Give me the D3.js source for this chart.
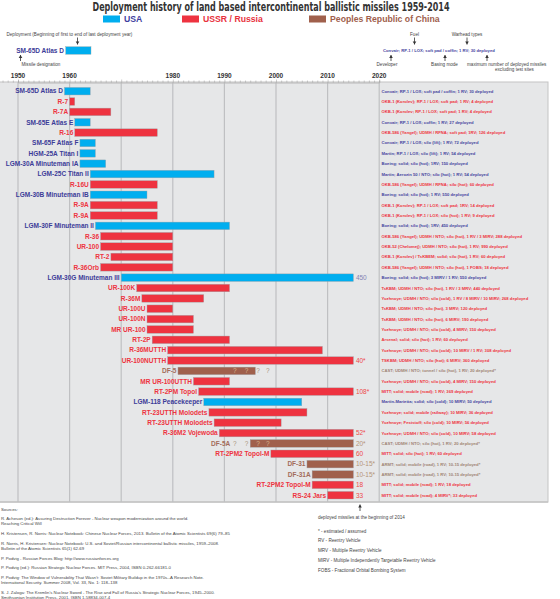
<!DOCTYPE html>
<html><head><meta charset="utf-8">
<script src="https://cdn.jsdelivr.net/npm/d3@7"></script>
<style>body{margin:0;background:#fff}svg{display:block}text{font-family:"Liberation Sans",Arial,sans-serif}</style>
</head><body><svg id="c" width="560" height="599"></svg>
<script>
// ---------- data ----------
const missiles = ["SM-65D Atlas D","R-7","R-7A","SM-65E Atlas E","R-16","SM-65F Atlas F","HGM-25A Titan I","LGM-30A Minuteman IA","LGM-25C Titan II","R-16U","LGM-30B Minuteman IB","R-9A","R-9A","LGM-30F Minuteman II","R-36","UR-100","RT-2","R-36Orb","LGM-30G Minuteman III","UR-100K","R-36M","UR-100U","UR-100N","MR UR-100","RT-2P","R-36MUTTH","UR-100NUTTH","DF-5","MR UR-100UTTH","RT-2PM Topol","LGM-118 Peacekeeper","RT-23UTTH Molodets","RT-23UTTH Molodets","R-36M2 Vojewoda","DF-5A","RT-2PM2 Topol-M","DF-31","DF-31A","RT-2PM2 Topol-M","RS-24 Jars"];
const countries = ["US","RU","RU","US","RU","US","US","US","US","RU","US","RU","RU","US","RU","RU","RU","RU","US","RU","RU","RU","RU","RU","RU","RU","RU","CN","RU","RU","US","RU","RU","RU","CN","RU","CN","CN","RU","RU"];
const startYears = [1959,1960,1960,1961,1961,1962,1962,1962,1964,1964,1964,1964,1964,1965,1966,1966,1968,1966,1970,1973,1974,1975,1975,1975,1976,1979,1979,1981,1984,1985,1986,1987,1988,1989,1995,1999,2006,2007,2007,2010];
const endYears   = [1964,1961,1968,1964,1977,1965,1965,1967,1988,1977,1975,1977,1977,1991,1980,1980,1980,1980,2015,1991,1986,1980,1984,1984,1991,2009,2015,1996,1991,2015,2005,2006,2001,2015,2015,2015,2015,2015,2015,2015];
const deployed2014 = ["","","","","","","","","","","","","","","","","","","450","","","","","","","","40*","","","108*","","","","52*","20*","60","10-15*","10-15*","18","33"];
const details = [
"Convair; RP-1 / LOX; soft pad / coffin; 1 RV; 30 deployed",
"OKB-1 (Korolev); RP-1 / LOX; soft pad; 1 RV; 4 deployed",
"OKB-1 (Korolev; RP-1 / LOX; soft pad; 1 RV; 4 deployed",
"Convair; RP-1 / LOX; coffin; 1 RV; 27 deployed",
"OKB-586 (Yangel); UDMH / RFNA; soft pad; 1RV; 126 deployed",
"Convair; RP-1 / LOX; silo (lift); 1 RV; 72 deployed",
"Martin; RP-1 / LOX; silo (lift); 1 RV; 54 deployed",
"Boeing; solid; silo (hot); 1RV; 150 deployed",
"Martin; Aerozin 50 / NTO; silo (hot); 1 RV; 54 deployed",
"OKB-586 (Yangel); UDMH / RFNA; silo (hot); 60 deployed",
"Boeing; solid; silo (hot); 1 RV; 550 deployed",
"OKB-1 (Korolev); RP-1 / LOX; soft pad; 1RV; 14 deployed",
"OKB-1 (Korolev); RP-1 / LOX; silo (hot); 1 RV; 9 deployed",
"Boeing; solid; silo (hot); 1RV; 450 deployed",
"OKB-586 (Yangel); UDMH / NTO; silo (hot), 1 RV / 3 MIRV; 288 deployed",
"OKB-52 (Chelomej); UDMH / NTO; silo (hot), 1 RV; 990 deployed",
"OKB-1 (Korolev) / TsKBEM; solid; silo (hot), 1 RV; 60 deployed",
"OKB-586 (Yangel); UDMH / NTO; silo (hot), 1 FOBS; 18 deployed",
"Boeing; solid; silo (hot); 3 MIRV / 1 RV; 550 deployed",
"TsKBM; UDMH / NTO; silo (hot), 1 RV / 3 MRV; 440 deployed",
"Yuzhnoye; UDMH / NTO; silo (cold), 1 RV / 8 MIRV / 10 MIRV; 268 deployed",
"TsKBM; UDMH / NTO; silo (hot), 3 MRV; 120 deployed",
"TsKBM; UDMH / NTO; silo (hot), 6 MIRV; 190 deployed",
"Yuzhnoye; UDMH / NTO; silo (cold), 4 MIRV; 150 deployed",
"Arsenal; solid; silo (hot); 1 RV; 60 deployed",
"Yuzhnoye; UDMH / NTO; silo (cold); 10 MIRV / 1 RV; 308 deployed",
"TSKBM; UDMH / NTO; silo (hot); 6 MIRV; 360 deployed",
"CAST; UDMH / NTO; tunnel / silo (hot), 1 RV; 20 deployed*",
"Yuzhnoye; UDMH / NTO; silo (cold), 4 MIRV; 150 deployed",
"MITT; solid; mobile (road); 1 RV; 369 deployed",
"Martin-Marietta; solid; silo (cold); 10 MIRV; 50 deployed",
"Yuzhnoye; solid; mobile (railway); 10 MIRV; 36 deployed",
"Yuzhnoye; Feststoff; silo (cold); 10 MIRV; 56 deployed",
"Yuzhnoye; UDMH / NTO; silo (cold), 10 MIRV; 58 deployed",
"CAST; UDMH / NTO; silo (hot), 1 RV; 20 deployed*",
"MITT; solid; silo (hot); 1 RV; 60 deployed",
"ARMT; solid; mobile (road), 1 RV; 10-15 deployed*",
"ARMT; solid; mobile (road), 1 RV; 10-15 deployed*",
"MITT; solid; mobile (road); 1 RV; 18 deployed",
"MITT; solid; mobile (road); 4 MIRV*; 33 deployed"];
const yearTickLabels = [1950,1960,1980,1990,2000,2010,2020];
const gridYears = [1950,1960,1970,1980,1990,2000,2010,2020];
const uncertainRows = ["DF-5","DF-5A"];
const uncertainYears = [1992,1994.3,1996.5,1998.4];
const legendKeys = ["US","RU","CN"];
const legendNames = ["USA","USSR / Russia","Peoples Republic of China"];
const sources = [
["Sources:"],
["R. Acheson (ed.): Assuring Destruction Forever - Nuclear weapon modernization around the world.","Reaching Critical Will"],
["H. Kristensen, R. Norris: Nuclear Notebook: Chinese Nuclear Forces, 2013. Bulletin of the Atomic Scientists 69(6) 79–85"],
["R. Norris, H. Kristensen:  Nuclear Notebook: U.S. and Soviet/Russian intercontinental ballistic missiles, 1959–2008.","Bulletin of the Atomic Scientists 65(1) 62-69"],
["P. Podvig - Russian Forces Blog: http://www.russianforces.org"],
["P. Podvig (ed.): Russian Strategic Nuclear Forces. MIT Press, 2004, ISBN 0-262-66181-0"],
["P. Podvig: The Window of Vulnerability That Wasn't: Soviet Military Buildup in the 1970s--A Research Note.","International Security. Summer 2008, Vol. 33, No. 1: 118–138"],
["S. J. Zaloga: The Kremlin's Nuclear Sword - The Rise and Fall of Russia's Strategic Nuclear Forces, 1945–2000.","Smithsonian Institution Press, 2001, ISBN 1-58834-007-4"]];
const notes = ["* - estimated / assumed","RV - Reentry Vehicle","MRV - Multiple Reentry Vehicle","MIRV - Multiple Independently Targetable Reentry Vehicle","FOBS - Fractional Orbital Bombing System"];

// ---------- styles ----------
const barColor = {US:"#00aeef",RU:"#ee3340",CN:"#a0604c"};
const labelColor = {US:"#3c3c98",RU:"#ee3340",CN:"#a36c5a"};
const detailColor = {US:"#4646a0",RU:"#ee3340",CN:"#a08474"};
const valueColor = {US:"#8484b4",RU:"#ee4a4a",CN:"#b49478"};
const legendText = {US:"#3f3f9f",RU:"#e8323c",CN:"#a0604c"};

const svg = d3.select("#c");
const x = d3.scaleLinear().domain([1950,2020]).range([18,379.2]);
const y = d3.scaleBand().domain(d3.range(missiles.length)).range([86,500.4]).paddingInner(0.27).paddingOuter(0.135);
const plotTop = 82, plotBottom = 502, plotRight = 548;

// title
svg.append("text").attr("x",271).attr("y",11).attr("text-anchor","middle")
  .style("font-family","'Liberation Sans Narrow','DejaVu Sans Condensed',sans-serif")
  .attr("font-weight","bold").attr("font-size",11.5).attr("fill","#333")
  .attr("textLength",357).attr("lengthAdjust","spacingAndGlyphs")
  .text("Deployment history of land based intercontinental ballistic missiles 1959-2014");

// legend
const legX = [103,182,309];
legendKeys.forEach((k,i)=>{
  svg.append("rect").attr("x",legX[i]).attr("y",15.5).attr("width",17).attr("height",7).attr("fill",barColor[k]);
  svg.append("text").attr("x",legX[i]+21).attr("y",22).attr("font-weight","bold").attr("font-size",8.7)
    .attr("fill",legendText[k]).text(legendNames[i]);
});

// arrows helper
function arrow(xp,y1,y2){ // head at y2
  svg.append("line").attr("x1",xp).attr("x2",xp).attr("y1",y1).attr("y2",y2).attr("stroke","#333").attr("stroke-width",0.8);
  const d = y2>y1?-1:1;
  svg.append("path").attr("d",`M${xp-1.8},${y2+d*3}L${xp+1.8},${y2+d*3}L${xp},${y2}Z`).attr("fill","#333");
}
const small = (t,xp,yp,anchor="start",size=4.6)=>svg.append("text").attr("x",xp).attr("y",yp).attr("text-anchor",anchor).attr("font-size",size).attr("fill","#444").text(t);

// header explanation
small("Deployment (Beginning of first to end of last deployment year)",6.5,35.5);
arrow(77.5,37.5,44.5);
svg.append("rect").attr("x",65.7).attr("y",46.7).attr("width",25.3).attr("height",7.6).attr("fill",barColor.US).attr("stroke","#9aa").attr("stroke-width",0.4);
svg.append("text").attr("x",64).attr("y",52.8).attr("text-anchor","end").attr("font-weight","bold").attr("font-size",6.5).attr("fill",labelColor.US).text("SM-65D Atlas D");
arrow(20.5,61,55);
small("Missile designation",21.5,65.5);
svg.append("text").attr("x",383).attr("y",52.3).attr("font-weight","bold").attr("font-size",4.2).attr("fill",detailColor.US).text(details[0]);
small("Fuel",414.5,35.5,"middle"); arrow(414.5,37.5,44.5);
small("Warhead types",467,35.5,"middle"); arrow(467,37.5,44.5);
small("Developer",387,65.5,"middle"); arrow(391,61,55);
small("Basing mode",444.5,65.5,"middle"); arrow(445,61,55);
small("maximum number of  deployed missiles",467,65.5); arrow(487,61,55);
small("excluding test sites",495,70.5);

// plot box
svg.append("rect").attr("x",-1).attr("y",plotTop).attr("width",plotRight+1).attr("height",plotBottom-plotTop)
  .attr("fill","#e6e7e8").attr("stroke","#c4c4c4").attr("stroke-width",1);
svg.append("line").attr("x1",0).attr("x2",plotRight).attr("y1",plotBottom).attr("y2",plotBottom).attr("stroke","#c4c4c4").attr("stroke-width",1.5);

// grid
svg.append("g").selectAll("line").data(gridYears).join("line")
  .attr("x1",d=>x(d)).attr("x2",d=>x(d)).attr("y1",plotTop).attr("y2",plotBottom)
  .attr("stroke","#bfc0c2").attr("stroke-width",1.2);

// top axis (minor ticks)
const axTop = d3.axisTop(x).tickValues(d3.range(1947,2021)).tickSize(2).tickFormat("");
const ga = svg.append("g").attr("transform",`translate(0,${plotTop+0.5})`).call(axTop);
ga.select(".domain").attr("stroke","#b8b8b8");
ga.selectAll(".tick line").attr("stroke","#999").attr("stroke-width",0.5);
ga.selectAll(".tick").filter(d=>d%10===0).select("line").attr("y2",-3);
svg.append("g").selectAll("text").data(yearTickLabels).join("text")
  .attr("x",d=>x(d)).attr("y",78).attr("text-anchor","middle").attr("font-weight","bold")
  .attr("font-size",6.5).attr("fill","#333").text(d=>d);

// label position: left of bar, and left of any "?" marks in front of the bar
function labelX(i){
  let lx = x(startYears[i]);
  if (uncertainRows.includes(missiles[i])) {
    const before = uncertainYears.filter(v=>v<startYears[i]);
    if (before.length) lx = Math.min(lx, x(d3.min(before))-3);
  }
  return lx-1.5;
}

// bars
const rows = svg.append("g").selectAll("g").data(d3.range(missiles.length)).join("g");
rows.append("rect").attr("x",i=>x(startYears[i])).attr("y",i=>y(i)).attr("width",i=>x(endYears[i])-x(startYears[i]))
  .attr("height",y.bandwidth()).attr("fill",i=>barColor[countries[i]]).attr("stroke","#a0a4a8").attr("stroke-width",0.4);
rows.append("text").attr("x",labelX).attr("y",i=>y(i)+y.bandwidth()/2+2.3).attr("text-anchor","end")
  .attr("font-weight","bold").attr("font-size",6.5).attr("fill",i=>labelColor[countries[i]]).text(i=>missiles[i]);
rows.append("text").attr("x",i=>x(endYears[i])+2.5).attr("y",i=>y(i)+y.bandwidth()/2+2.3)
  .attr("font-size",6.5).attr("fill",i=>valueColor[countries[i]]).text(i=>deployed2014[i]);
rows.append("text").attr("x",381.5).attr("y",i=>y(i)+y.bandwidth()/2+1.5)
  .attr("font-weight","bold").attr("font-size",4.2).attr("fill",i=>detailColor[countries[i]]).text(i=>details[i]);

// uncertain marks
uncertainRows.forEach(name=>{
  const i = missiles.indexOf(name);
  uncertainYears.forEach(yr=>{
    const inside = yr>=startYears[i] && yr<=endYears[i];
    svg.append("text").attr("x",x(yr)).attr("y",y(i)+y.bandwidth()/2+2.3).attr("text-anchor","middle")
      .attr("font-size",6.5).attr("fill",inside?"#d8b48c":"#a89478").text("?");
  });
});

// bottom annotation
arrow(360,511,504.5);
small("deployed missiles at the beginning of 2014",318,518.5);
notes.forEach((t,i)=>small(t,318,532.5+i*9.9));
let sy = 510.5;
sources.forEach(lines=>{
  lines.forEach((t,j)=>{ small(t,1,sy+j*4.7,"start",4.3); });
  sy += (lines.length>1?4.7:0) + 9.9;
});
</script></body></html>
